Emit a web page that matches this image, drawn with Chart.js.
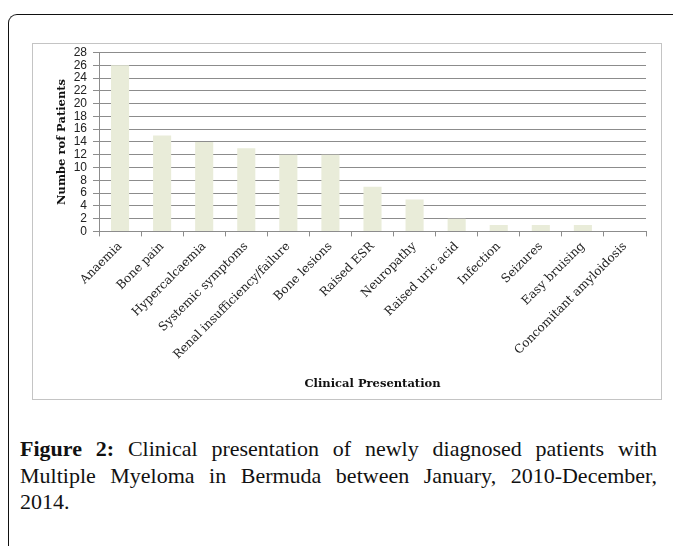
<!DOCTYPE html>
<html>
<head>
<meta charset="utf-8">
<script src="https://cdn.jsdelivr.net/npm/chart.js@4.4.1/dist/chart.umd.min.js"></script>
<style>
body { margin: 0; background: #fff; width: 673px; height: 546px; overflow: hidden; position: relative; }
.frame { position: absolute; left: 8px; top: 14px; width: 700px; height: 600px; border-left: 1.5px solid #111; border-top: 1.5px solid #111; border-top-left-radius: 9px; }
.box { position: absolute; left: 32px; top: 43px; width: 628px; height: 355px; border: 1px solid #c4c4c4; }
.caption { position: absolute; left: 20px; top: 436px; width: 637px; font-family: "Liberation Serif", serif; font-size: 22px; line-height: 26.5px; text-align: justify; color: #111; }
.caption b { font-weight: bold; }
</style>
</head>
<body>
<div class="frame"></div>
<div class="box"><canvas id="chart" width="628" height="355"></canvas></div>
<div class="caption"><b>Figure 2:</b> Clinical presentation of newly diagnosed patients with Multiple Myeloma in Bermuda between January, 2010-December, 2014.</div>
<script>
const categories = ['Anaemia', 'Bone pain', 'Hypercalcaemia', 'Systemic symptoms', 'Renal insufficiency/failure', 'Bone lesions', 'Raised ESR', 'Neuropathy', 'Raised uric acid', 'Infection', 'Seizures', 'Easy bruising', 'Concomitant amyloidosis'];
const patients = [26, 15, 14, 13, 12, 12, 7, 5, 2, 1, 1, 1, 0];
const yTicks = [0, 2, 4, 6, 8, 10, 12, 14, 16, 18, 20, 22, 24, 26, 28];

const gridColor = '#8c8c8c';

new Chart(document.getElementById('chart'), {
    type: 'bar',
    data: {
        labels: categories,
        datasets: [{
            data: patients,
            backgroundColor: '#e9ecd9',
            borderWidth: 0,
            categoryPercentage: 1,
            barPercentage: 0.43
        }]
    },
    options: {
        responsive: false,
        animation: false,
        layout: { padding: { left: 22, right: 15, top: 8.5, bottom: 8 } },
        plugins: { legend: { display: false }, tooltip: { enabled: false } },
        scales: {
            x: {
                afterFit: function (axis) { axis.paddingLeft = 0; axis.paddingRight = 0; },
                grid: { drawOnChartArea: false, color: gridColor, tickLength: 5, offset: true },
                border: { color: gridColor },
                ticks: {
                    autoSkip: false, maxRotation: 45, minRotation: 45, padding: 3,
                    color: '#222', font: { family: 'DejaVu Serif', size: 12 }
                },
                title: {
                    display: true, text: 'Clinical Presentation', color: '#111',
                    font: { family: 'DejaVu Serif', size: 11.5, weight: 'bold' },
                    padding: { top: 12, bottom: 0 }
                }
            },
            y: {
                min: 0, max: 28,
                afterBuildTicks: function (axis) { axis.ticks = yTicks.map(v => ({ value: v })); },
                // keep the plot edge where the original has it
                afterFit: function (axis) { axis.width = 44; axis.paddingTop = 0; axis.paddingBottom = 0; },
                grid: { color: gridColor, tickLength: 6 },
                border: { color: gridColor },
                ticks: {
                    autoSkip: false, padding: 6, color: '#222',
                    font: { family: 'Liberation Sans', size: 12 }
                },
                title: {
                    display: true, text: 'Numbe rof Patients', color: '#111',
                    font: { family: 'DejaVu Serif', size: 11.5, weight: 'bold' },
                    padding: { top: 0, bottom: 4 }
                }
            }
        }
    }
});
</script>
</body>
</html>
